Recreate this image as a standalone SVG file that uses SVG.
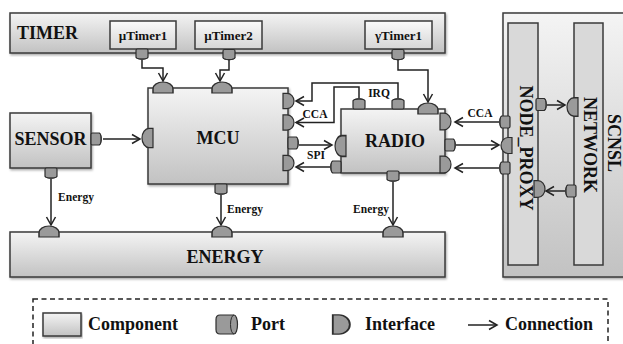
<svg xmlns="http://www.w3.org/2000/svg" xmlns:xlink="http://www.w3.org/1999/xlink" width="623" height="344" viewBox="0 0 623 344">
<style>
.comp{fill:url(#g);stroke:#3a3a3a;stroke-width:1.5}
.sub{fill:url(#g2);stroke:#3a3a3a;stroke-width:1.5}
.lane{fill:#d9d9d9;stroke:#3a3a3a;stroke-width:1.5}
.pt{fill:#9a9a9a;stroke:#2e2e2e;stroke-width:1.2}
.ptl{fill:none;stroke:#2e2e2e;stroke-width:1}
.if{fill:#9a9a9a;stroke:#2e2e2e;stroke-width:1.2}
.c{fill:none;stroke:#222;stroke-width:1.5;marker-end:url(#arr)}
.t{font-family:"Liberation Serif","Times New Roman",serif;font-weight:bold;fill:#111}
.big{font-size:18px}
.mid{font-size:13px}
.sm{font-size:11.5px}
</style>
<defs>
<linearGradient id="g" x1="0" y1="0" x2="0" y2="1">
<stop offset="0" stop-color="#f4f4f4"/>
<stop offset="1" stop-color="#c2c2c2"/>
</linearGradient>
<linearGradient id="g2" x1="0" y1="0" x2="0" y2="1">
<stop offset="0" stop-color="#fafafa"/>
<stop offset="1" stop-color="#d6d6d6"/>
</linearGradient>
<filter id="sh" x="-5%" y="-5%" width="110%" height="115%">
<feDropShadow dx="1" dy="1.5" stdDeviation="1" flood-color="#000" flood-opacity="0.35"/>
</filter>
<marker id="arr" markerUnits="userSpaceOnUse" markerWidth="12" markerHeight="12" viewBox="0 0 12 12" refX="10" refY="6" orient="auto">
<path d="M2,1.5 L10,6 L2,10.5" fill="none" stroke="#222" stroke-width="1.5"/>
</marker>
<g id="port">
<path class="pt" d="M-6,-3.5 Q-6,-5 -4.5,-5 H4.5 Q6,-5 6,-3.5 V3 A6,2.2 0 0 1 -6,3 Z"/>
<path class="ptl" d="M-6,3 A6,2.2 0 0 0 6,3"/>
</g>
<g id="lport">
<path class="pt" d="M-7,-9.5 H7 A3.5,9.5 0 0 1 7,9.5 H-7 Q-11,9.5 -11,5 V-5 Q-11,-9.5 -7,-9.5 Z"/>
<path class="ptl" d="M7,-9.5 A3.5,9.5 0 0 0 7,9.5"/>
</g>
<path id="dome" class="if" d="M-8,4 V0 A8,7 0 0 1 8,0 V4 Z"/>
</defs>

<g id="timer">
<rect class="comp" x="10" y="13" width="435" height="40" filter="url(#sh)"/>
<text class="t big" x="17" y="39">TIMER</text>
</g>
<g id="utimer1">
<rect class="sub" x="110" y="21" width="66" height="28"/>
<text class="t mid" x="143" y="39.5" text-anchor="middle">µTimer1</text>
<use xlink:href="#port" transform="translate(142,54)"/>
</g>
<g id="utimer2">
<rect class="sub" x="195" y="21" width="67" height="28"/>
<text class="t mid" x="228.5" y="39.5" text-anchor="middle">µTimer2</text>
<use xlink:href="#port" transform="translate(229,54.5)"/>
</g>
<g id="gtimer1">
<rect class="sub" x="365" y="21" width="67" height="28"/>
<text class="t mid" x="398.5" y="39.5" text-anchor="middle">γTimer1</text>
<use xlink:href="#port" transform="translate(398,54.5)"/>
</g>

<g id="scnsl">
<rect class="comp" x="503" y="13" width="130" height="264" filter="url(#sh)"/>
<text class="t big" transform="translate(608,143) rotate(90)" text-anchor="middle">SCNSL</text>
</g>
<g id="node_proxy">
<rect class="lane" x="508" y="23" width="30" height="242"/>
<text class="t big" transform="translate(520,148) rotate(90)" text-anchor="middle">NODE_PROXY</text>
<use xlink:href="#port" transform="translate(505,122) rotate(90)"/>
<use xlink:href="#dome" transform="translate(508,145.5) rotate(-90)"/>
<use xlink:href="#port" transform="translate(505,168) rotate(90)"/>
<use xlink:href="#port" transform="translate(541,104.5) rotate(-90)"/>
<use xlink:href="#dome" transform="translate(538,189) rotate(90) scale(1.05,1)"/>
</g>
<g id="network">
<rect class="lane" x="574" y="23" width="29" height="242"/>
<text class="t big" transform="translate(584,145) rotate(90)" text-anchor="middle">NETWORK</text>
<use xlink:href="#dome" transform="translate(574,107) rotate(-90) scale(1.15,1)"/>
<use xlink:href="#port" transform="translate(571,191) rotate(90)"/>
</g>

<g id="sensor">
<rect class="comp" x="10" y="113" width="81" height="55" filter="url(#sh)"/>
<text class="t big" x="50.5" y="145" text-anchor="middle">SENSOR</text>
<use xlink:href="#port" transform="translate(96,139) rotate(-90)"/>
<use xlink:href="#port" transform="translate(51,173)"/>
</g>

<g id="mcu">
<rect class="comp" x="148" y="88" width="140" height="96" filter="url(#sh)"/>
<text class="t big" x="218" y="144" text-anchor="middle">MCU</text>
<use xlink:href="#dome" transform="translate(163,89) scale(1.25,1)"/>
<use xlink:href="#dome" transform="translate(222,89) scale(1.25,1)"/>
<use xlink:href="#dome" transform="translate(149,138) rotate(-90) scale(1.2,1)"/>
<use xlink:href="#dome" transform="translate(287,101) rotate(90) scale(0.95,1)"/>
<use xlink:href="#dome" transform="translate(287,122.5) rotate(90) scale(0.95,1)"/>
<use xlink:href="#port" transform="translate(293,143) rotate(-90)"/>
<use xlink:href="#dome" transform="translate(287,163) rotate(90) scale(0.95,1)"/>
<use xlink:href="#port" transform="translate(221,189)"/>
</g>

<g id="radio">
<rect class="comp" x="341" y="109" width="104" height="64" filter="url(#sh)"/>
<text class="t big" x="395" y="147" text-anchor="middle">RADIO</text>
<use xlink:href="#port" transform="translate(359,104) rotate(180)"/>
<use xlink:href="#port" transform="translate(398,104) rotate(180)"/>
<use xlink:href="#dome" transform="translate(428,110) scale(1.25,1)"/>
<use xlink:href="#dome" transform="translate(342,146) rotate(-90) scale(1.3,1)"/>
<use xlink:href="#port" transform="translate(336,167) rotate(90)"/>
<use xlink:href="#dome" transform="translate(444,121.5) rotate(90) scale(1.05,1)"/>
<use xlink:href="#port" transform="translate(450,145) rotate(-90)"/>
<use xlink:href="#dome" transform="translate(444,164.5) rotate(90) scale(1.05,1)"/>
<use xlink:href="#port" transform="translate(393,176)"/>
</g>

<g id="energy">
<rect class="comp" x="10" y="232" width="435" height="45" filter="url(#sh)"/>
<text class="t big" x="225" y="263" text-anchor="middle">ENERGY</text>
<use xlink:href="#dome" transform="translate(49,233) scale(1.25,1)"/>
<use xlink:href="#dome" transform="translate(222,233) scale(1.25,1)"/>
<use xlink:href="#dome" transform="translate(393,233) scale(1.25,1)"/>
</g>

<g id="connectors">
<path class="c" d="M142,60 V68 H163 V81"/>
<path class="c" d="M229,60 V70 H220 V81"/>
<path class="c" d="M398,60 V70 H428 V102"/>
<path class="c" d="M103,139 H140"/>
<path class="c" d="M51,179 V225"/>
<path class="c" d="M221,195 V225"/>
<path class="c" d="M393,182 V225"/>
<path class="c" d="M398,98 V83 H312 V101 H296"/>
<path class="c" d="M359,98 V87 H334 V122.5 H296"/>
<path class="c" d="M299,145 H332"/>
<path class="c" d="M330,167 H296"/>
<path class="c" d="M499,122 H455"/>
<path class="c" d="M456,145 H499"/>
<path class="c" d="M499,168 H455"/>
<path class="c" d="M547,105 H565"/>
<path class="c" d="M565,191 H546"/>
<text class="t sm" x="379" y="97" text-anchor="middle">IRQ</text>
<text class="t sm" x="315" y="118" text-anchor="middle">CCA</text>
<text class="t sm" x="316" y="159" text-anchor="middle">SPI</text>
<text class="t sm" x="480" y="117" text-anchor="middle">CCA</text>
<text class="t sm" x="76" y="201" text-anchor="middle">Energy</text>
<text class="t sm" x="245" y="213" text-anchor="middle">Energy</text>
<text class="t sm" x="371" y="213" text-anchor="middle">Energy</text>
</g>

<g id="legend">
<rect x="33" y="299" width="575" height="60" fill="none" stroke="#222" stroke-width="1.5" stroke-dasharray="5,3.5"/>
<rect class="comp" x="43" y="313" width="38" height="23" filter="url(#sh)"/>
<text class="t big" x="88" y="330">Component</text>
<use xlink:href="#lport" transform="translate(227,324.5)"/>
<text class="t big" x="251" y="330">Port</text>
<use xlink:href="#dome" transform="translate(339,324.5) rotate(90) scale(1.2,1.55)"/>
<text class="t big" x="365" y="330">Interface</text>
<path class="c" d="M468,325 H497"/>
<text class="t big" x="505" y="330">Connection</text>
</g>
</svg>
